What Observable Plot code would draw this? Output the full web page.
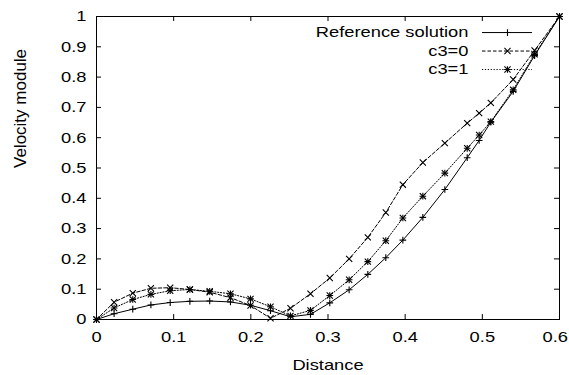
<!DOCTYPE html>
<html><head><meta charset="utf-8">
<script src="https://cdn.jsdelivr.net/npm/d3@7"></script>
<script src="https://cdn.jsdelivr.net/npm/@observablehq/plot@0.6"></script>
<style>body{margin:0;background:#fff}</style>
</head><body><div id="chart"></div>
<script>
const distance = [0, 0.0228, 0.047, 0.0705, 0.0955, 0.121, 0.1467, 0.1736, 0.1996, 0.2255, 0.2514, 0.2773, 0.3023, 0.3274, 0.3516, 0.3749, 0.397, 0.4229, 0.4514, 0.4804, 0.4959, 0.511, 0.540, 0.5677, 0.6];
const referenceSolution = [0, 0.019, 0.034, 0.048, 0.056, 0.060, 0.061, 0.058, 0.047, 0.029, 0.009, 0.017, 0.055, 0.098, 0.149, 0.204, 0.262, 0.337, 0.429, 0.534, 0.591, 0.651, 0.753, 0.871, 1];
const c3zero = [0, 0.057, 0.087, 0.103, 0.105, 0.099, 0.090, 0.072, 0.046, 0.004, 0.037, 0.085, 0.137, 0.200, 0.271, 0.353, 0.445, 0.518, 0.582, 0.648, 0.681, 0.715, 0.792, 0.888, 1];
const c3one = [0, 0.038, 0.066, 0.083, 0.095, 0.099, 0.093, 0.085, 0.068, 0.042, 0.012, 0.030, 0.079, 0.131, 0.191, 0.260, 0.335, 0.407, 0.483, 0.565, 0.609, 0.653, 0.758, 0.875, 1];
const seriesNames = ["Reference solution", "c3=0", "c3=1"];
const xTicks = [0, 0.1, 0.2, 0.3, 0.4, 0.5, 0.6];
const yTicks = [0, 0.1, 0.2, 0.3, 0.4, 0.5, 0.6, 0.7, 0.8, 0.9, 1];
const xLabel = "Distance";
const yLabel = "Velocity module";

// legend placement (in data units, inside the frame, top right)
const legendRowY = [0.947, 0.886, 0.825];
const legendX1 = 0.5002, legendX2 = 0.565, legendXMid = 0.5326, legendTextX = 0.482;

const W = 569, H = 375;
const mL = 96, mR = 10, mT = 16, mB = 56;
const frameW = W - mL - mR, frameH = H - mT - mB;
const tick = 5;
const stretch = 1.22; // reference text is wider than it is tall

const seriesValues = [referenceSolution, c3zero, c3one];
const dash = [null, "3.5,2", "1.2,1.7"];
const rows = seriesNames.flatMap((name, i) => distance.map((x, j) => ({series: name, x, y: seriesValues[i][j]})));
const legend = seriesNames.map((name, i) => ({series: name, y: legendRowY[i]}));
const byName = n => rows.filter(d => d.series === n);

const marks = [
  Plot.frame({stroke: "black", strokeWidth: 1}),
  Plot.tickX(xTicks, {x: d => d, insetTop: frameH - tick, stroke: "black"}),
  Plot.tickX(xTicks, {x: d => d, insetBottom: frameH - tick, stroke: "black"}),
  Plot.tickY(yTicks, {y: d => d, insetRight: frameW - tick, stroke: "black"}),
  Plot.tickY(yTicks, {y: d => d, insetLeft: frameW - tick, stroke: "black"}),
  Plot.axisX({ticks: xTicks, tickSize: 0, tickPadding: 12, label: null, tickFormat: d => String(d)}),
  Plot.axisY({ticks: yTicks, tickSize: 0, tickPadding: 10, label: null, tickFormat: d => String(d)}),
  Plot.text([xLabel], {frameAnchor: "bottom", text: d => d, dy: 46, lineAnchor: "middle"}),
  Plot.text([yLabel], {frameAnchor: "left", text: d => d, rotate: -90, dx: -76, lineAnchor: "middle", fontSize: 17}),
];
seriesNames.forEach((name, i) => {
  marks.push(Plot.line(byName(name), {x: "x", y: "y", stroke: "black", strokeWidth: 1, strokeDasharray: dash[i]}));
  marks.push(Plot.ruleY([legend[i]], {y: "y", x1: legendX1, x2: legendX2, stroke: "black", strokeWidth: 1, strokeDasharray: dash[i]}));
});
const sym = [["plus"], ["times"], ["plus", "times"]];
const symR = {plus: 2.3, times: 2.9};
seriesNames.forEach((name, i) => {
  sym[i].forEach(s => {
    marks.push(Plot.dot(byName(name), {x: "x", y: "y", symbol: () => s, r: symR[s], stroke: "black", strokeWidth: 1.1}));
    marks.push(Plot.dot([legend[i]], {x: () => legendXMid, y: "y", symbol: () => s, r: symR[s], stroke: "black", strokeWidth: 1.1}));
  });
});
marks.push(Plot.text(legend, {x: () => legendTextX, y: "y", text: "series", textAnchor: "end", lineAnchor: "middle"}));

const chart = Plot.plot({
  width: W, height: H,
  marginLeft: mL, marginRight: mR, marginTop: mT, marginBottom: mB,
  style: {fontFamily: "'Liberation Sans', Arial, sans-serif", fontSize: "15px", background: "white", color: "black"},
  x: {domain: [0, 0.6]},
  y: {domain: [0, 1]},
  symbol: {type: "identity"},
  marks
});
document.getElementById("chart").appendChild(chart);

// widen horizontal texts to match the reference's wide lettering
const svgBox = chart.getBoundingClientRect();
chart.querySelectorAll("text").forEach(t => {
  if (t.textContent === yLabel) return;
  const len = t.getComputedTextLength();
  t.setAttribute("textLength", (len * stretch).toFixed(2));
  t.setAttribute("lengthAdjust", "spacingAndGlyphs");
  const b = t.getBoundingClientRect();
  const over = b.right - (svgBox.left + W - 1);
  if (over > 0) t.setAttribute("dx", String(-over));
});
</script>
</body></html>
